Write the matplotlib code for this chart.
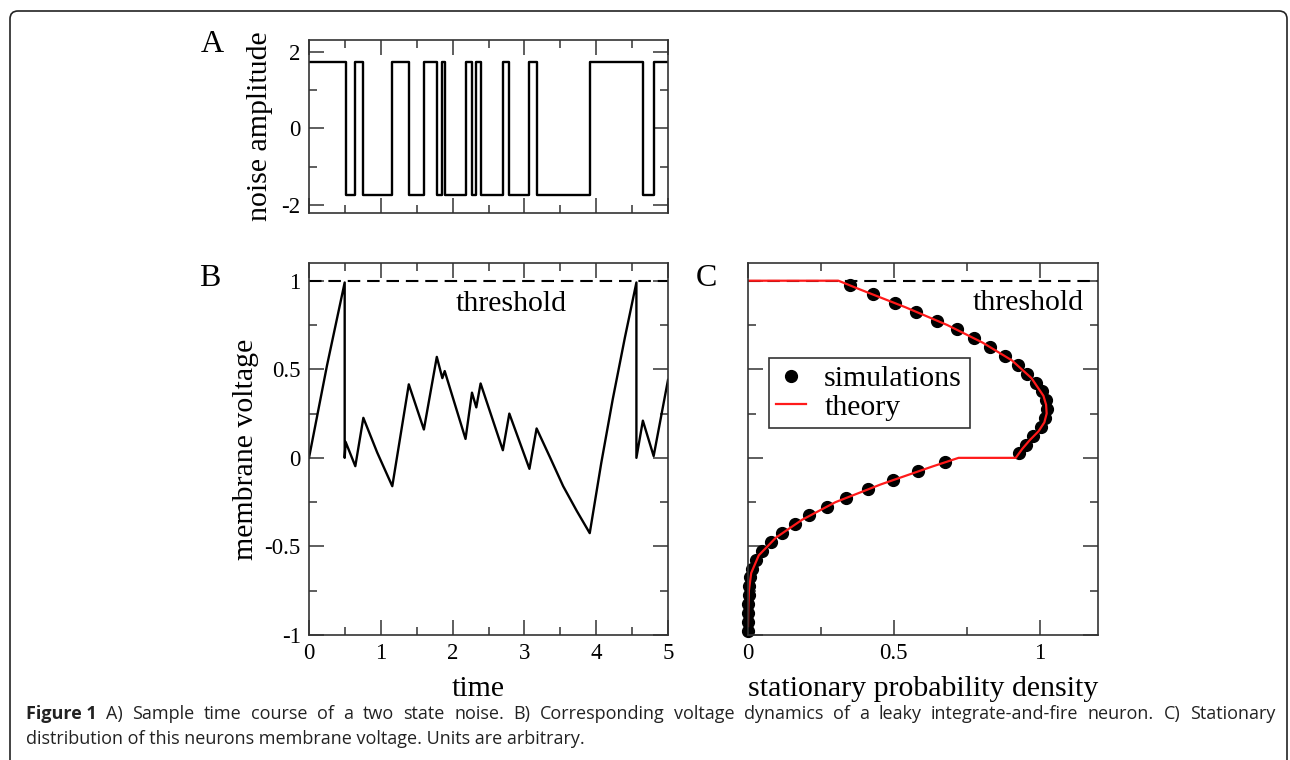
import matplotlib
matplotlib.use("Agg")
import matplotlib.pyplot as plt
from matplotlib.patches import FancyBboxPatch
from matplotlib.ticker import MultipleLocator, NullFormatter

# --------------------
# Data
# --------------------

# A) two state noise: switching times and the level held after each one
noise_t = [0.0, 0.51, 0.645, 0.757, 1.16, 1.39, 1.60, 1.78, 1.857, 1.89, 2.18,
           2.27, 2.33, 2.39, 2.70, 2.79, 3.07, 3.17, 3.92, 4.65, 4.80, 5.0]
noise_amp = [1.73, -1.73, 1.73, -1.73, 1.73, -1.73, 1.73, -1.73, 1.73, -1.73, 1.73,
             -1.73, 1.73, -1.73, 1.73, -1.73, 1.73, -1.73, 1.73, -1.73, 1.73, 1.73]

# B) membrane voltage
volt_t = [0.0, 0.25, 0.497, 0.497, 0.51, 0.645, 0.757, 0.95, 1.16, 1.39, 1.60,
          1.78, 1.857, 1.89, 2.18, 2.27, 2.33, 2.39, 2.70, 2.79, 3.07, 3.17,
          3.36, 3.54, 3.73, 3.91, 4.07, 4.23, 4.40, 4.56, 4.56, 4.65, 4.80, 5.0]
volt_v = [0.0, 0.52, 0.99, 0.0, 0.09, -0.047, 0.226, 0.03, -0.16, 0.415, 0.16,
          0.57, 0.45, 0.49, 0.107, 0.368, 0.285, 0.42, 0.043, 0.25, -0.062, 0.166,
          0.0, -0.16, -0.30, -0.425, -0.03, 0.33, 0.68, 0.99, 0.0, 0.21, 0.01, 0.44]

# C) stationary density: simulations
sim_v = [0.975, 0.925, 0.875, 0.825, 0.775, 0.725, 0.675, 0.625, 0.575, 0.525,
         0.475, 0.425, 0.375, 0.325, 0.275, 0.225, 0.175, 0.125, 0.075, 0.025,
         -0.025, -0.075, -0.125, -0.175, -0.225, -0.275, -0.325, -0.375, -0.425, -0.475,
         -0.525, -0.575, -0.625, -0.675, -0.725, -0.775, -0.825, -0.875, -0.925, -0.975]
sim_p = [0.349, 0.427, 0.503, 0.577, 0.648, 0.717, 0.776, 0.830, 0.882, 0.924,
         0.958, 0.986, 1.007, 1.020, 1.024, 1.018, 1.003, 0.978, 0.952, 0.929,
         0.677, 0.582, 0.497, 0.412, 0.336, 0.270, 0.210, 0.162, 0.116, 0.078,
         0.048, 0.028, 0.014, 0.008, 0.004, 0.002, 0.001, 0.0, 0.0, 0.0]

# C) theory
theory_v = [1.0, 1.0, 0.95, 0.85, 0.75, 0.65, 0.55, 0.45, 0.35, 0.30, 0.25,
            0.20, 0.15, 0.10, 0.05, 0.0, 0.0, -0.05, -0.15, -0.25, -0.35, -0.45,
            -0.55, -0.65, -0.75, -0.85, -0.95]
theory_p = [0.0, 0.31, 0.385, 0.540, 0.683, 0.805, 0.905, 0.972, 1.013, 1.022, 1.024,
            1.016, 0.996, 0.966, 0.940, 0.918, 0.722, 0.630, 0.455, 0.300, 0.185, 0.096,
            0.037, 0.011, 0.003, 0.001, 0.0]

threshold = 1.0
caption_bold = "Figure 1"
caption_line1 = ("A) Sample time course of a two state noise. B) Corresponding voltage "
                 "dynamics of a leaky integrate-and-fire neuron. C) Stationary")
caption_line2 = "distribution of this neurons membrane voltage. Units are arbitrary."

# -----
# Style
# -----

plt.rcParams["font.family"] = ["Liberation Serif", "DejaVu Serif"]
plt.rcParams["axes.unicode_minus"] = False

W, H = 1290, 760
fig = plt.figure(figsize=(W / 100, H / 100), dpi=100)

SPINE = "#333333"
LABEL_SIZE = 21.5
TICK_SIZE = 16.5


def px_axes(left, top, right, bottom):
    return fig.add_axes([left / W, 1 - bottom / H, (right - left) / W, (bottom - top) / H])


def style(ax, xlabels=True, ylabels=True):
    for sp in ax.spines.values():
        sp.set_color(SPINE)
        sp.set_linewidth(1.2)
    ax.tick_params(which="both", direction="in", top=True, right=True,
                   color=SPINE, width=1.1, labelsize=TICK_SIZE)
    ax.tick_params(which="major", length=11, pad=6)
    ax.tick_params(which="minor", length=6)
    if not xlabels:
        ax.xaxis.set_major_formatter(NullFormatter())
    if not ylabels:
        ax.yaxis.set_major_formatter(NullFormatter())


# -------
# Panel A
# -------
ax_a = px_axes(309, 40, 668, 213)
ax_a.step(noise_t, noise_amp, where="post", color="black", lw=1.7)
ax_a.set_xlim(0, 5)
ax_a.set_ylim(-2.2, 2.3)
ax_a.xaxis.set_major_locator(MultipleLocator(1))
ax_a.xaxis.set_minor_locator(MultipleLocator(0.5))
ax_a.yaxis.set_major_locator(MultipleLocator(2))
ax_a.yaxis.set_minor_locator(MultipleLocator(1))
style(ax_a, xlabels=False)
ax_a.set_ylabel("noise amplitude", fontsize=LABEL_SIZE)
ax_a.yaxis.set_label_coords(-0.100, 0.5)

# -------
# Panel B
# -------
ax_b = px_axes(309, 263, 668, 635)
ax_b.axhline(threshold, color="black", lw=1.5, linestyle=(0, (6, 3.3)))
ax_b.plot(volt_t, volt_v, color="black", lw=1.7)
ax_b.set_xlim(0, 5)
ax_b.set_ylim(-1, 1.1)
ax_b.xaxis.set_major_locator(MultipleLocator(1))
ax_b.xaxis.set_minor_locator(MultipleLocator(0.5))
ax_b.yaxis.set_major_locator(MultipleLocator(0.5))
ax_b.yaxis.set_minor_locator(MultipleLocator(0.25))
ax_b.yaxis.set_major_formatter(lambda v, _: f"{v:g}")
style(ax_b)
ax_b.text(2.82, 0.868, "threshold", fontsize=LABEL_SIZE, ha="center", va="center")
ax_b.set_xlabel("time", fontsize=LABEL_SIZE)
ax_b.xaxis.set_label_coords(0.47, -0.11)
ax_b.set_ylabel("membrane voltage", fontsize=LABEL_SIZE)
ax_b.yaxis.set_label_coords(-0.139, 0.5)

# -------
# Panel C
# -------
ax_c = px_axes(748, 263, 1098, 635)
ax_c.axhline(threshold, color="black", lw=1.5, linestyle=(0, (6, 3.3)))
ax_c.plot(sim_p, sim_v, "o", color="black", ms=8.5, label="simulations", clip_on=False)
ax_c.plot(theory_p, theory_v, color="#ff1a1a", lw=1.6, label="theory")
ax_c.set_xlim(0, 1.2)
ax_c.set_ylim(-1, 1.1)
ax_c.xaxis.set_major_locator(MultipleLocator(0.5))
ax_c.xaxis.set_minor_locator(MultipleLocator(0.25))
ax_c.xaxis.set_major_formatter(lambda v, _: f"{v:g}")
ax_c.yaxis.set_major_locator(MultipleLocator(0.5))
ax_c.yaxis.set_minor_locator(MultipleLocator(0.25))
style(ax_c, ylabels=False)
ax_c.text(0.96, 0.877, "threshold", fontsize=LABEL_SIZE, ha="center", va="center")
ax_c.set_xlabel("stationary probability density", fontsize=LABEL_SIZE)
ax_c.xaxis.set_label_coords(0.5, -0.11)
leg = ax_c.legend(loc="upper left", bbox_to_anchor=(0.06, 0.745), borderaxespad=0,
                  fontsize=LABEL_SIZE, frameon=True, fancybox=False, framealpha=1,
                  edgecolor=SPINE, handlelength=1.0, handletextpad=0.6,
                  labelspacing=0.05, borderpad=0.25)
leg.get_frame().set_linewidth(1.2)

# Panel letters
for letter, (x, y) in zip("ABC", [(212, 45), (210, 278), (706, 278)]):
    fig.text(x / W, 1 - y / H, letter, fontsize=23, ha="center", va="center")

# -------
# Caption (first line justified between the frame margins)
# -------
cap_font = ["Open Sans", "DejaVu Sans"]
cap_size = 13.0
cap_left, cap_right = 26, 1275
renderer = fig.canvas.get_renderer()

words = [(caption_bold, "bold")] + [(w, "normal") for w in caption_line1.split()]
pieces = []
for w, weight in words:
    t = fig.text(0, 1 - 714 / H, w, fontsize=cap_size, family=cap_font, weight=weight,
                 va="center", ha="left", color="#222222")
    pieces.append((t, t.get_window_extent(renderer=renderer).width))
gap = (cap_right - cap_left - sum(wd for _, wd in pieces)) / (len(pieces) - 1)
x = cap_left
for t, wd in pieces:
    t.set_x(x / W)
    x += wd + gap

fig.text(cap_left / W, 1 - 739 / H, caption_line2, fontsize=cap_size, family=cap_font,
         va="center", ha="left", color="#222222")

# Frame around the figure
frame = FancyBboxPatch((0.10, -0.5), 12.77, 7.99, boxstyle="round,pad=0,rounding_size=0.08",
                       transform=fig.dpi_scale_trans, fill=False, edgecolor="#222222", lw=1.2)
fig.add_artist(frame)

fig.savefig("out.png", dpi=100)
